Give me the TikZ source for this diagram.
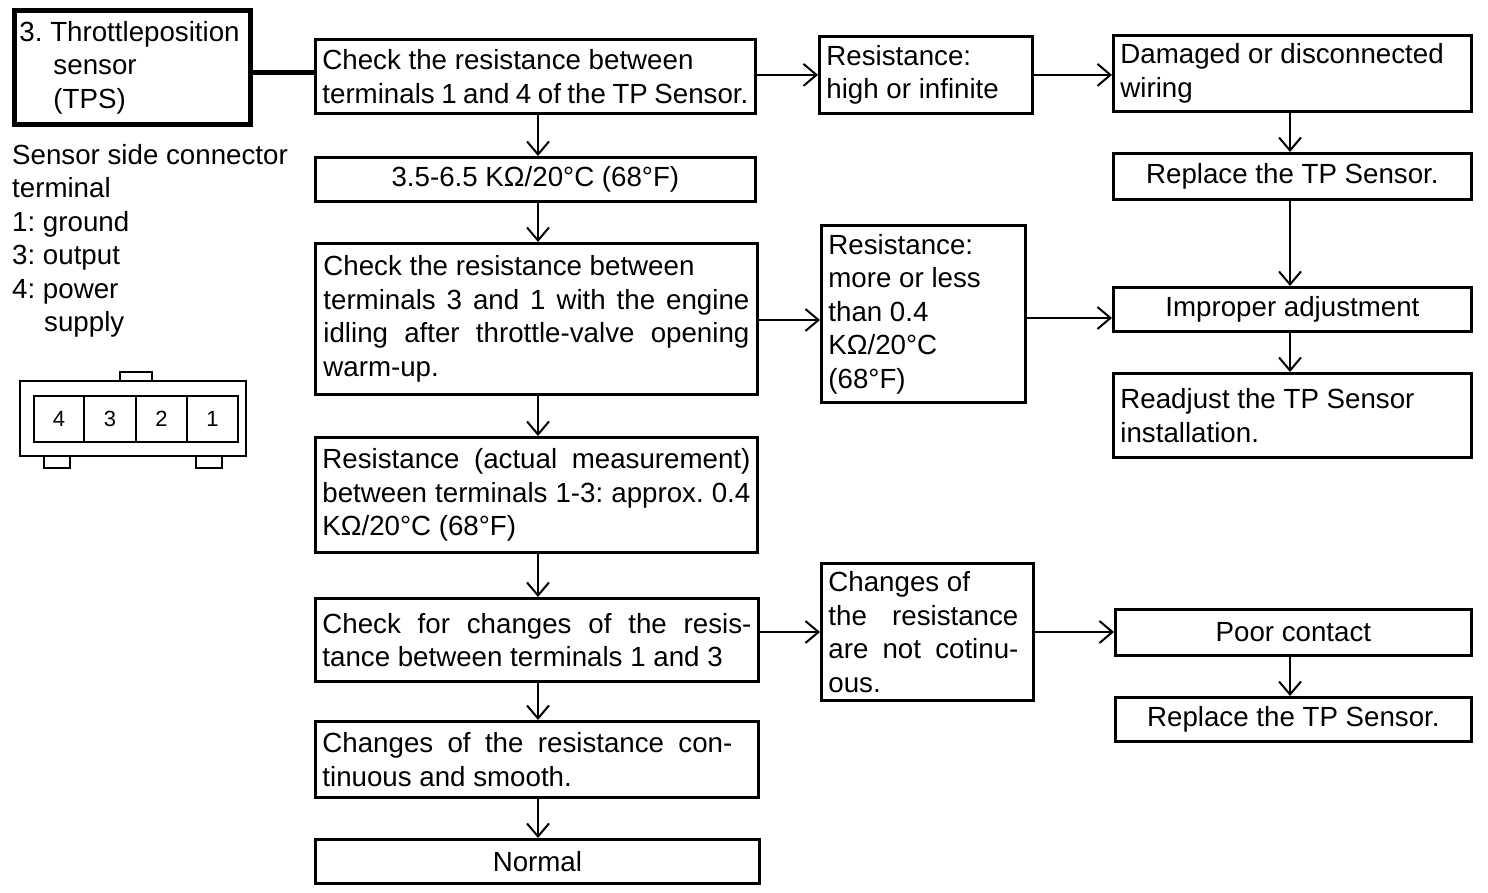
\documentclass[tikz,border=0pt]{standalone}
\usepackage{fontspec}
\setmainfont{Liberation Sans}
\usetikzlibrary{arrows.meta}
\frenchspacing
\newcommand\fs{\fontsize{27.7}{33.5}\selectfont}
\newcommand\jl[1]{\hbox to \hsize{\spaceskip=.278em plus 1fil\relax#1}}
\newcommand\nl[1]{\hbox to \hsize{#1\hfil}}
\newcommand\cl[1]{\hbox to \hsize{\hfil#1\hfil}}
\newcommand\tb[2]{\vbox{\hsize=#1pt\relax#2}}
\tikzset{
  box/.style={draw, line width=2.8pt, anchor=north west, inner sep=0pt, font=\fs},
  arr/.style={line width=2.4pt, -{Straight Barb[length=13pt,width=22pt,line width=2pt]}},
  plain/.style={anchor=north west, inner sep=0pt, font=\fs},
  num/.style={inner sep=0pt, font=\fontsize{22}{26}\selectfont},
}
\begin{document}
\begin{tikzpicture}[x=1pt,y=-1pt]
\useasboundingbox (0,0) rectangle (1488,892);
\fill[white] (0,0) rectangle (1488,892);

% TPS title
\node[box, line width=5pt, minimum width=236pt, minimum height=114pt] (tps) at (12,8)
  {\tb{226}{\nl{3. Throttleposition}\nl{\hspace*{34pt}sensor}\nl{\hspace*{34pt}(TPS)}}};

% left text
\node[plain] (side) at (12,144) {\tb{290}{\nl{Sensor side connector}\nl{terminal}\nl{1: ground}\nl{3: output}\nl{4: power}\nl{\hspace*{32pt}supply}}};

% connector drawing
\draw[line width=2pt] (20,381) rectangle (246,456);
\draw[line width=2pt] (120,381) -- (120,372) -- (152,372) -- (152,381);
\draw[line width=2pt] (44,456) -- (44,468) -- (70,468) -- (70,456);
\draw[line width=2pt] (196,456) -- (196,468) -- (222,468) -- (222,456);
\draw[line width=2pt] (34,396) rectangle (238,442);
\draw[line width=2pt] (84,396) -- (84,442) (136,396) -- (136,442) (187,396) -- (187,442);
\node[num] (c4) at (59,419) {4};
\node[num] (c3) at (110,419) {3};
\node[num] (c2) at (161.5,419) {2};
\node[num] (c1) at (212.5,419) {1};

% middle column
\node[box, minimum width=440pt, minimum height=74pt] (b1) at (314,38)
  {\tb{426}{\nl{Check the resistance between}\nl{terminals 1 and 4 of the TP Sensor.}}};
\node[box, minimum width=440pt, minimum height=44pt] (b2) at (314,156)
  {\tb{426}{\cl{3.5-6.5 KΩ/20°C (68°F)}}};
\node[box, minimum width=442pt, minimum height=151pt] (b3) at (314,242)
  {\tb{426}{\nl{Check the resistance between}\jl{terminals 3 and 1 with the engine}\jl{idling after throttle-valve opening}\nl{warm-up.}}};
\node[box, minimum width=442pt, minimum height=115pt] (b4) at (314,436)
  {\tb{428}{\jl{Resistance (actual measurement)}\jl{between terminals 1-3: approx. 0.4}\nl{KΩ/20°C (68°F)}}};
\node[box, minimum width=443pt, minimum height=83pt] (b5) at (314,597)
  {\tb{429}{\jl{Check for changes of the resis-}\nl{tance between terminals 1 and 3}}};
\node[box, minimum width=443pt, minimum height=76pt] (b6) at (314,720)
  {\tb{429}{\nl{\hbox to 410pt{\spaceskip=.278em plus 1fil\relax Changes of the resistance con-}}\nl{tinuous and smooth.}}};
\node[box, minimum width=444pt, minimum height=44pt] (nrm) at (314,838)
  {\tb{430}{\cl{Normal}}};

% result column
\node[box, minimum width=213pt, minimum height=77pt] (r1) at (818,35)
  {\tb{199}{\nl{Resistance:}\nl{high or infinite}}};
\node[box, minimum width=204pt, minimum height=177pt] (r2) at (820,224)
  {\tb{190}{\nl{Resistance:}\nl{more or less}\nl{than 0.4}\nl{KΩ/20°C}\nl{(68°F)}}};
\node[box, minimum width=212pt, minimum height=137pt] (r3) at (820,562)
  {\tb{198}{\nl{Changes of}\nl{\hbox to 190pt{\spaceskip=.278em plus 1fil\relax the resistance}}\nl{\hbox to 190pt{\spaceskip=.278em plus 1fil\relax are not cotinu-}}\nl{ous.}}};

% right column
\node[box, minimum width=358pt, minimum height=76pt] (d) at (1112,34)
  {\tb{344}{\nl{Damaged or disconnected}\nl{wiring}}};
\node[box, minimum width=358pt, minimum height=46pt] (rp1) at (1112,152)
  {\tb{344}{\cl{Replace the TP Sensor.}}};
\node[box, minimum width=358pt, minimum height=44pt] (imp) at (1112,286)
  {\tb{344}{\cl{Improper adjustment}}};
\node[box, minimum width=358pt, minimum height=84pt] (rdj) at (1112,372)
  {\tb{344}{\nl{Readjust the TP Sensor}\nl{installation.}}};
\node[box, minimum width=356pt, minimum height=46pt] (poor) at (1114,608)
  {\tb{342}{\cl{Poor contact}}};
\node[box, minimum width=356pt, minimum height=44pt] (rp2) at (1114,696)
  {\tb{342}{\cl{Replace the TP Sensor.}}};

% helper coordinates
\coordinate (mx) at (538,0);
\coordinate (rx) at (1290,0);
\coordinate (ty) at (0,72);
\coordinate (y3) at (0,320);
\coordinate (y4) at (0,318);
\coordinate (y5) at (0,632);

% connectors
\draw[line width=5pt] (tps.east |- ty) -- (b1.west |- ty);
\draw[arr] (b1.south -| mx) -- (b2.north -| mx);
\draw[arr] (b2.south -| mx) -- (b3.north -| mx);
\draw[arr] (b3.south -| mx) -- (b4.north -| mx);
\draw[arr] (b4.south -| mx) -- (b5.north -| mx);
\draw[arr] (b5.south -| mx) -- (b6.north -| mx);
\draw[arr] (b6.south -| mx) -- (nrm.north -| mx);

\draw[arr] (b1.east |- r1.west) -- (r1.west);
\draw[arr] (r1.east) -- (r1.east -| d.west);
\draw[arr] (b3.east |- y3) -- (r2.west |- y3);
\draw[arr] (r2.east |- y4) -- (imp.west |- y4);
\draw[arr] (b5.east |- y5) -- (r3.west |- y5);
\draw[arr] (r3.east |- y5) -- (poor.west |- y5);

\draw[arr] (d.south -| rx) -- (rp1.north -| rx);
\draw[arr] (rp1.south -| rx) -- (imp.north -| rx);
\draw[arr] (imp.south -| rx) -- (rdj.north -| rx);
\draw[arr] (poor.south -| rx) -- (rp2.north -| rx);
\end{tikzpicture}
\end{document}
